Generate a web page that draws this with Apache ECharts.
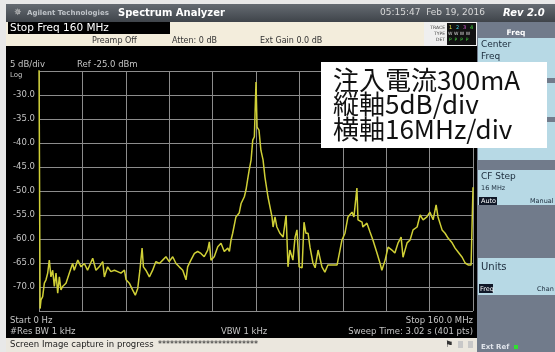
<!DOCTYPE html>
<html>
<head>
<meta charset="utf-8">
<script src="https://cdn.jsdelivr.net/npm/echarts@6/dist/echarts.min.js"></script>
<style>
  html, body { margin: 0; padding: 0; background: #ffffff; }
  #chart { width: 555px; height: 352px; }
</style>
</head>
<body>
<div id="chart"></div>
<script>
// Swept spectrum, 0 - 160 MHz, trace 1 (clear/write, peak detector)
const freqMHz = [
  0, 0.4, 0.74, 1.35, 1.97, 2.58, 3.2, 3.8, 4.4, 5.05,
  5.65, 6.27, 6.9, 7.5, 8.1, 8.7, 9.95, 11.2, 12.4, 13.0,
  14.3, 15.5, 16.7, 17.9, 19.8, 21.0, 22.2, 23.5, 24.1, 25.3,
  26.5, 27.8, 29.0, 30.2, 31.5, 32.1, 33.3, 34.5, 35.5, 36.4,
  37.2, 38.0, 38.5, 39.4, 40.7, 41.9, 43.1, 44.4, 45.6, 46.8,
  48.0, 49.3, 50.5, 51.7, 53.0, 54.2, 54.8, 56.0, 57.3, 58.5,
  59.7, 60.9, 62.2, 62.8, 63.4, 64.6, 65.9, 67.1, 68.3, 69.6,
  70.2, 70.8, 71.4, 72.6, 73.8, 74.5, 75.7, 76.3, 76.9, 77.5,
  78.2, 78.8, 79.4, 80.0, 80.4, 80.7, 81.1, 81.8, 82.6, 83.3,
  84.4, 85.9, 86.3, 87.0, 87.7, 88.8, 90.0, 91.1, 91.8, 92.5,
  93.6, 94.4, 95.1, 95.9, 97.0, 97.7, 98.4, 99.2, 99.9, 101.0,
  101.8, 102.9, 104.3, 105.4, 106.5, 108.0, 109.9, 110.6, 111.7, 112.8,
  113.9, 115.4, 116.1, 117.2, 117.6, 119.1, 119.4, 120.9, 122.0, 123.1,
  124.6, 125.7, 126.4, 127.6, 128.7, 130.1, 131.2, 132.4, 133.5, 134.2,
  135.7, 136.8, 137.9, 139.4, 140.5, 141.6, 143.0, 144.1, 145.3, 146.4,
  147.1, 148.6, 149.7, 150.8, 152.3, 153.4, 154.5, 156.0, 157.1, 158.2,
  159.3, 160
];
const levelDbm = [
  -22, -74.5, -72.7, -72.0, -69.2, -68.5, -67.1, -64.4, -67.9, -66.5,
  -69.9, -67.1, -71.3, -67.9, -70.6, -69.9, -69.2, -67.1, -65.1, -66.5,
  -64.4, -65.8, -65.1, -66.5, -64.0, -66.5, -65.8, -64.7, -67.9, -65.8,
  -66.8, -66.5, -66.8, -67.1, -66.5, -68.5, -69.2, -70.6, -71.7, -70.3,
  -66.5, -61.9, -65.8, -66.5, -67.9, -66.5, -64.7, -65.1, -64.4, -63.7,
  -64.7, -63.7, -65.1, -65.8, -66.5, -68.5, -65.8, -64.4, -63.0, -62.6,
  -63.0, -63.7, -62.3, -60.6, -64.4, -63.7, -61.6, -60.9, -62.6, -61.9,
  -62.6, -60.2, -58.8, -55.4, -54.6, -52.6, -51.2, -49.8, -47.7, -45.6,
  -43.5, -39.4, -38.7, -27.3, -36.7, -36.9, -37.3, -41.5, -43.5, -47.1,
  -51.2, -55.4, -57.5, -55.4, -57.5, -58.8, -59.6, -55.0, -65.8, -62.3,
  -64.4, -59.6, -58.1, -65.8, -66.0, -56.5, -58.8, -58.8, -61.7, -65.0,
  -66.0, -62.3, -65.8, -66.9, -65.4, -65.4, -65.4, -65.0, -60.2, -58.8,
  -55.4, -54.4, -55.4, -49.4, -56.0, -56.5, -57.5, -56.7, -58.5, -60.2,
  -62.9, -65.0, -66.5, -64.4, -61.7, -62.3, -62.9, -60.8, -59.6, -63.8,
  -60.8, -60.2, -58.1, -57.5, -55.0, -56.0, -55.4, -54.4, -56.0, -52.9,
  -55.4, -58.1, -58.8, -59.8, -60.8, -61.9, -62.7, -63.8, -65.0, -65.4,
  -65.4, -49.2
];

// Display scale: reference level and dB per division
const refLevel = -25;
const dbPerDiv = 5;
const divisions = 10;
const startMHz = 0;
const stopMHz = 160;

const noteLines = ['注入電流300mA', '縦軸5dB/div', '横軸16MHz/div'];

const chart = echarts.init(document.getElementById('chart'), null, { renderer: 'canvas' });

const uiFont = 'DejaVu Sans';
function txt(x, y, text, size, fill, extra) {
  return Object.assign({
    type: 'text', x: x, y: y, z: 50,
    style: Object.assign({
      text: text, fill: fill, fontSize: size, fontFamily: uiFont,
      align: 'left', verticalAlign: 'middle'
    }, (extra && extra.style) || {})
  }, extra ? { z: extra.z || 50 } : {});
}
function box(x, y, w, h, fill, z) {
  return { type: 'rect', z: z || 40, shape: { x: x, y: y, width: w, height: h }, style: { fill: fill } };
}

const gridGray = '#8c8c8c';
const labelGray = '#c4c4c4';
const panelBg = '#717b8b';
const btnBlue = '#b7d9e5';
const cream = '#f3eddc';

const graphics = [
  // outer margins
  box(0, 0, 555, 4, '#e8e8e8', 30),
  box(0, 0, 6, 352, '#e8e8e8', 30),
  // title bar
  { type: 'rect', z: 40, shape: { x: 6, y: 4, width: 549, height: 18 },
    style: { fill: new echarts.graphic.LinearGradient(0, 0, 0, 1, [
      { offset: 0, color: '#656b72' }, { offset: 1, color: '#3f444a' }]) } },
  txt(14, 13, '\u2735', 9, '#c8c8c8'),
  txt(27, 13, 'Agilent Technologies', 7, '#bfc3c8', { style: { fontWeight: 'bold' } }),
  txt(118, 13, 'Spectrum Analyzer', 10, '#ffffff', { style: { fontWeight: 'bold' } }),
  txt(380, 13, '05:15:47  Feb 19, 2016', 9, '#d8d8d8'),
  txt(503, 13, 'Rev 2.0', 10, '#ffffff', { style: { fontWeight: 'bold', fontStyle: 'italic' } }),
  // settings rows
  box(6, 22, 418, 24, cream),
  box(8, 22, 162, 12, '#000000'),
  txt(10, 28.5, 'Stop Freq 160 MHz', 10.5, '#ffffff'),
  txt(92, 41, 'Preamp Off', 8, '#333333'),
  txt(172, 41, 'Atten: 0 dB', 8, '#333333'),
  txt(260, 41, 'Ext Gain 0.0 dB', 8, '#333333'),
  box(424, 22, 53, 24, '#efefef'),
  txt(445, 28, 'TRACE', 4.5, '#444', { style: { align: 'right' } }),
  txt(445, 34, 'TYPE', 4.5, '#444', { style: { align: 'right' } }),
  txt(445, 40, 'DET', 4.5, '#444', { style: { align: 'right' } }),
  box(447, 23, 29, 22, '#111111', 41),
  txt(449, 28, '1', 5, '#e6e640', { z: 52 }),
  txt(456, 28, '2', 5, '#40c8e0', { z: 52 }),
  txt(463, 28, '3', 5, '#e060e0', { z: 52 }),
  txt(470, 28, '4', 5, '#40e040', { z: 52 }),
  txt(448, 34, 'W W W W', 4.5, '#dddddd', { z: 52 }),
  txt(449, 40, 'P  P  P  P', 4.5, '#40d040', { z: 52 }),
  // plot-side texts
  txt(10, 65, '5 dB/div', 8.5, labelGray),
  txt(77, 65, 'Ref -25.0 dBm', 8.5, labelGray),
  txt(10, 75, 'Log', 7, labelGray),
  txt(10, 321, 'Start 0 Hz', 8.5, labelGray),
  txt(10, 332, '#Res BW 1 kHz', 8.5, labelGray),
  txt(221, 332, 'VBW 1 kHz', 8.5, labelGray),
  txt(473, 321, 'Stop 160.0 MHz', 8.5, labelGray, { style: { align: 'right' } }),
  txt(473, 332, 'Sweep Time: 3.02 s (401 pts)', 8.5, labelGray, { style: { align: 'right' } }),
  // status bar
  box(6, 338, 472, 14, '#ebe7de'),
  txt(10, 345, 'Screen Image capture in progress', 8.5, '#222222'),
  txt(158, 345, '*************************', 8, '#222222'),
  txt(445, 345, '\u2691', 9, '#333333'),
  box(458, 341, 5, 7, '#c8c8c8', 41),
  box(468, 341, 5, 7, '#c8c8c8', 41),
  // softkey panel
  box(477, 22, 78, 330, panelBg),
  txt(516, 33, 'Freq', 7.5, '#ffffff', { style: { align: 'center', fontWeight: 'bold' } }),
  box(478, 38, 77, 40, btnBlue),
  txt(481, 45, 'Center', 9, '#1a2a3a'),
  txt(481, 57, 'Freq', 9, '#1a2a3a'),
  box(478, 83, 77, 34, btnBlue),
  box(478, 122, 77, 38, btnBlue),
  box(478, 170, 77, 35, btnBlue),
  txt(481, 177, 'CF Step', 9, '#1a2a3a'),
  txt(481, 188, '16 MHz', 6.5, '#1a2a3a'),
  box(479, 197, 18, 8, '#101828', 41),
  txt(481, 201, 'Auto', 6.5, '#ffffff', { z: 52 }),
  txt(530, 201, 'Manual', 6.5, '#1a2a3a'),
  box(478, 258, 77, 37, btnBlue),
  txt(481, 267, 'Units', 10, '#1a2a3a'),
  box(479, 284, 14, 9, '#101828', 41),
  txt(480, 289, 'Freq', 6.5, '#ffffff', { z: 52 }),
  txt(537, 289, 'Chan', 6.5, '#1a2a3a'),
  txt(481, 347, 'Ext Ref', 7, '#dfe3ea', { style: { fontWeight: 'bold' } }),
  box(514, 345, 4, 4, '#30e030', 41),
  // annotation box
  box(321, 62, 226, 86, '#ffffff', 60)
];
noteLines.forEach(function (s, i) {
  graphics.push({
    type: 'text', x: 333, y: 80 + i * 24.5, z: 61,
    style: { text: s, fill: '#111111', fontSize: 26,
      fontFamily: 'Noto Sans CJK JP', align: 'left', verticalAlign: 'middle' }
  });
});

const option = {
  backgroundColor: '#000000',
  animation: false,
  grid: { left: 39, top: 71, right: 82, bottom: 41, containLabel: false },
  xAxis: {
    type: 'value', min: startMHz, max: stopMHz, interval: (stopMHz - startMHz) / divisions,
    axisLine: { show: false }, axisTick: { show: false }, axisLabel: { show: false },
    splitLine: { show: true, lineStyle: { color: gridGray, width: 1 } }
  },
  yAxis: {
    type: 'value', min: refLevel - dbPerDiv * divisions, max: refLevel, interval: dbPerDiv,
    axisLine: { show: false }, axisTick: { show: false },
    axisLabel: {
      color: labelGray, fontSize: 8.5, fontFamily: uiFont, margin: 4,
      formatter: function (v) {
        if (v === refLevel || v === refLevel - dbPerDiv * divisions) return '';
        return v.toFixed(1);
      }
    },
    splitLine: { show: true, lineStyle: { color: gridGray, width: 1 } }
  },
  series: [{
    type: 'line',
    data: freqMHz.map(function (f, i) { return [f, levelDbm[i]]; }),
    showSymbol: false,
    clip: true,
    lineStyle: { color: '#cfcf36', width: 1.5 },
    z: 10
  }],
  graphic: graphics
};

chart.setOption(option);
</script>
</body>
</html>
